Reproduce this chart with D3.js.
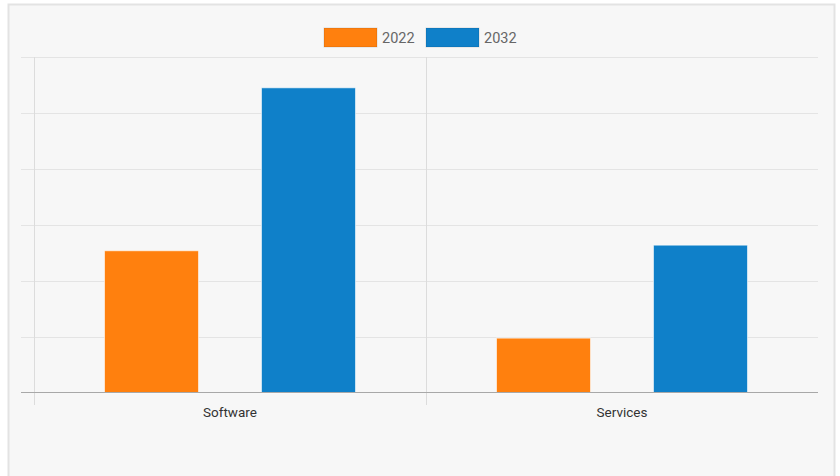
<!DOCTYPE html>
<html>
<head>
<meta charset="utf-8">
<script src="https://cdn.jsdelivr.net/npm/d3@7"></script>
<style>
  body { margin: 0; background: #fff; }
  svg { display: block; }
</style>
</head>
<body>
<div id="chart"></div>
<script>
(function(){
  'use strict';

  var categories = ['Software', 'Services'];
  var seriesNames = ['2022', '2032'];
  var values2022 = [25.4, 9.8];
  var values2032 = [54.5, 26.4];
  var yTicks = [0, 10, 20, 30, 40, 50, 60];
  var colors = ['#ff800e', '#0f80c9'];

  var w = 840, h = 476,
      left = 34, right = 818, top = 57, bottom = 393;

  var svg = d3.select('#chart').append('svg')
    .attr('width', w)
    .attr('height', h);

  // panel
  svg.append('rect')
    .attr('x', 8.5).attr('y', 4.5)
    .attr('width', 826).attr('height', 480)
    .attr('fill', '#f7f7f7')
    .attr('stroke', '#e3e3e3')
    .attr('stroke-width', 2);

  var x0 = d3.scaleBand()
    .domain(categories)
    .range([left, right]);

  var x1 = d3.scaleBand()
    .domain(seriesNames)
    .range([0, x0.bandwidth()])
    .paddingInner(0.401)
    .paddingOuter(0.449);

  var y = d3.scaleLinear()
    .domain([0, 60])
    .range([bottom, top]);

  // horizontal grid
  svg.append('g')
    .selectAll('line')
    .data(yTicks.slice(1))
    .enter().append('line')
    .attr('x1', 21).attr('x2', right)
    .attr('y1', function(d){ return y(d) + 0.5; })
    .attr('y2', function(d){ return y(d) + 0.5; })
    .style('stroke', '#e4e4e4')
    .style('stroke-width', 1);

  // vertical grid between categories
  var vLines = categories.map(function(c){ return x0(c); });
  svg.append('g')
    .selectAll('line')
    .data(vLines)
    .enter().append('line')
    .attr('x1', function(d){ return d + 0.5; })
    .attr('x2', function(d){ return d + 0.5; })
    .attr('y1', top).attr('y2', bottom + 12)
    .style('stroke', '#dcdcdc');

  // bars
  var rows = categories.map(function(c, i){
    return {cat: c, vals: [values2022[i], values2032[i]]};
  });

  var groups = svg.selectAll('.grp')
    .data(rows)
    .enter().append('g')
    .attr('class', 'grp')
    .attr('transform', function(d){ return 'translate(' + x0(d.cat) + ',0)'; });

  groups.selectAll('rect')
    .data(function(d){ return d.vals; })
    .enter().append('rect')
    .attr('x', function(d, i){ return x1(seriesNames[i]); })
    .attr('y', function(d){ return y(d); })
    .attr('width', x1.bandwidth())
    .attr('height', function(d){ return bottom - y(d); })
    .style('fill', function(d, i){ return colors[i]; })
    .style('stroke', 'rgba(255,255,255,0.6)')
    .style('stroke-width', 1);

  // baseline
  svg.append('line')
    .attr('x1', 21).attr('x2', right)
    .attr('y1', bottom - 0.5).attr('y2', bottom - 0.5)
    .style('stroke', '#a8a8a8')
    .style('stroke-width', 1.2);

  // category labels
  svg.append('g')
    .selectAll('text')
    .data(categories)
    .enter().append('text')
    .attr('x', function(d){ return x0(d) + x0.bandwidth() / 2; })
    .attr('y', 417)
    .attr('text-anchor', 'middle')
    .style('font-family', 'Roboto, Arial, sans-serif')
    .style('font-size', '13.5px')
    .style('fill', '#333')
    .text(function(d){ return d; });

  // legend
  var legendX = [324, 426];
  var legend = svg.selectAll('.leg')
    .data(seriesNames)
    .enter().append('g')
    .attr('class', 'leg')
    .attr('transform', function(d, i){ return 'translate(' + legendX[i] + ',28)'; });

  legend.append('rect')
    .attr('width', 53).attr('height', 19)
    .style('fill', function(d, i){ return colors[i]; })
    .style('stroke', 'rgba(0,0,0,0.12)');

  legend.append('text')
    .attr('x', 58).attr('y', 14.5)
    .style('font-family', 'Roboto, Arial, sans-serif')
    .style('font-size', '14.5px')
    .style('fill', '#666')
    .text(function(d){ return d; });

}());
</script>
</body>
</html>
